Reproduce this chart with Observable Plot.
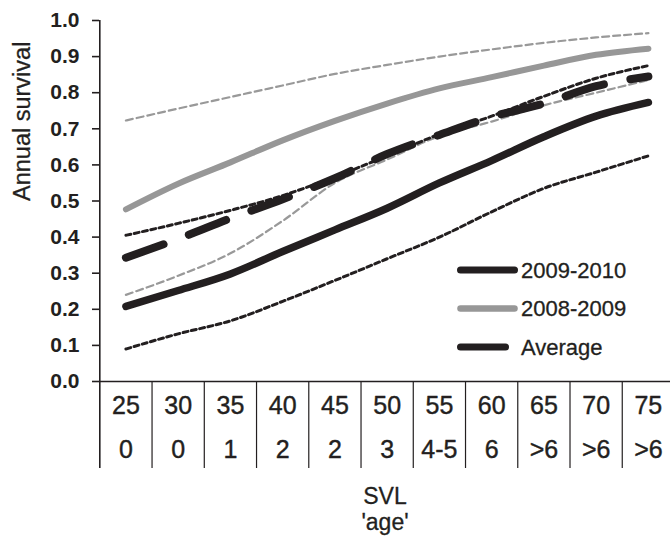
<!DOCTYPE html>
<html><head><meta charset="utf-8">
<script src="https://cdn.jsdelivr.net/npm/d3@7"></script>
<script src="https://cdn.jsdelivr.net/npm/@observablehq/plot@0.6"></script>
<style>
body{margin:0;background:#fff;}
#chart svg{font-family:"Liberation Sans",Arial,sans-serif;overflow:visible;}
</style>
</head><body><div id="chart"></div>
<script>
// ---- data ----
const svl = [25, 30, 35, 40, 45, 50, 55, 60, 65, 70, 75];
const ageLabels = ["0", "0", "1", "2", "2", "3", "4-5", "6", ">6", ">6", ">6"];
const surv0910 = [0.208, 0.252, 0.298, 0.36, 0.42, 0.48, 0.55, 0.612, 0.678, 0.735, 0.773];
const surv0809 = [0.477, 0.548, 0.607, 0.668, 0.722, 0.77, 0.812, 0.843, 0.875, 0.905, 0.922];
const survAvg = [0.343, 0.395, 0.452, 0.505, 0.563, 0.63, 0.683, 0.733, 0.77, 0.818, 0.845];
const avgUpper = [0.405, 0.438, 0.474, 0.515, 0.567, 0.625, 0.685, 0.735, 0.79, 0.84, 0.875];
const avgLower = [0.09, 0.132, 0.168, 0.222, 0.28, 0.34, 0.4, 0.47, 0.535, 0.58, 0.625];
const upper0809 = [0.723, 0.756, 0.788, 0.82, 0.852, 0.877, 0.9, 0.92, 0.938, 0.953, 0.965];
const lower0809 = [0.24, 0.293, 0.355, 0.445, 0.55, 0.615, 0.68, 0.72, 0.765, 0.8, 0.835];
const yTicks = [0, 0.1, 0.2, 0.3, 0.4, 0.5, 0.6, 0.7, 0.8, 0.9, 1.0];
const legendLabels = ["2009-2010", "2008-2009", "Average"];
const yTitle = "Annual survival";
const xTitle = "SVL";
const xSubTitle = "'age'";

// ---- helpers ----
const rows = vals => svl.map((x, i) => ({x, y: vals[i]}));
const boundaries = svl.map(d => d - 2.5);
const INK = "#231f20";
const GREY = "#979797";
const GREY_DASH = "#999999";
const legendStyle = {
  "2009-2010": {stroke: INK, width: 7, len: 54},
  "2008-2009": {stroke: GREY, width: 6.5, len: 54},
  "Average": {stroke: INK, width: 7, len: 45}
};

const legendMark = (index, scales, values, dims) => {
  const g = d3.create("svg:g").attr("text-anchor", "start");
  const x0 = dims.width - 209.5;
  legendLabels.forEach((lab, i) => {
    const st = legendStyle[lab];
    const y = 270 + i * 38.5;
    g.append("line").attr("x1", x0).attr("x2", x0 + st.len)
      .attr("y1", y).attr("y2", y)
      .attr("stroke", st.stroke).attr("stroke-width", st.width)
      .attr("stroke-linecap", "round");
    g.append("text").attr("x", x0 + 60.5).attr("y", y)
      .attr("dy", "0.36em").attr("font-size", 22).attr("fill", INK)
      .attr("stroke", INK).attr("stroke-width", 0.3)
      .attr("text-anchor", "start")
      .text(lab);
  });
  return g.node();
};

const chart = Plot.plot({
  width: 670,
  height: 545,
  marginLeft: 99,
  marginRight: 0,
  marginTop: 20,
  marginBottom: 164,
  x: {domain: [22.5, 77.5], range: [99.3, 674], axis: null},
  y: {domain: [0, 1], axis: null},
  marks: [
    Plot.axisY(yTicks, {
      tickSize: 7, tickPadding: 13, tickFormat: d3.format(".1f"),
      fontSize: 21, fontWeight: "bold", stroke: INK, strokeWidth: 1.6,
      fill: INK, label: null
    }),
    Plot.ruleX([boundaries[0]], {stroke: INK, strokeWidth: 1.6, insetBottom: -87}),
    Plot.ruleX(boundaries.slice(1), {stroke: INK, strokeWidth: 1.2, insetTop: 361, insetBottom: -87}),
    Plot.ruleY([0], {stroke: INK, strokeWidth: 1.6}),
    Plot.text(svl, {x: d => d, text: d => String(d), frameAnchor: "bottom", dy: 32, fontSize: 25, fill: INK, stroke: INK, strokeWidth: 0.4}),
    Plot.text(svl, {x: d => d, text: (d, i) => ageLabels[i], frameAnchor: "bottom", dy: 76, fontSize: 25, fill: INK, stroke: INK, strokeWidth: 0.4}),
    Plot.text([xTitle], {frameAnchor: "bottom", dy: 122, fontSize: 23, fill: INK, stroke: INK, strokeWidth: 0.3}),
    Plot.text([xSubTitle], {frameAnchor: "bottom", dy: 148, fontSize: 23, fill: INK, stroke: INK, strokeWidth: 0.3}),
    Plot.text([yTitle], {frameAnchor: "left", rotate: -90, dx: -77, fontSize: 23.5, fill: INK, stroke: INK, strokeWidth: 0.3}),
    Plot.line(rows(upper0809), {x: "x", y: "y", stroke: GREY_DASH, strokeWidth: 2.2, strokeDasharray: "7 4", curve: "monotone-x"}),
    Plot.line(rows(lower0809), {x: "x", y: "y", stroke: GREY_DASH, strokeWidth: 2.2, strokeDasharray: "7 4", curve: "monotone-x"}),
    Plot.line(rows(avgUpper), {x: "x", y: "y", stroke: INK, strokeWidth: 3, strokeDasharray: "5 3.5", curve: "monotone-x"}),
    Plot.line(rows(avgLower), {x: "x", y: "y", stroke: INK, strokeWidth: 3, strokeDasharray: "5 3.5", curve: "monotone-x"}),
    Plot.line(rows(surv0809), {x: "x", y: "y", stroke: GREY, strokeWidth: 6, strokeLinecap: "round", curve: "monotone-x"}),
    Plot.line(rows(surv0910), {x: "x", y: "y", stroke: INK, strokeWidth: 7.5, strokeLinecap: "round", curve: "monotone-x"}),
    Plot.line(rows(survAvg), {x: "x", y: "y", stroke: INK, strokeWidth: 8, strokeLinecap: "round", strokeDasharray: "40 27", curve: "monotone-x"}),
    legendMark
  ]
});
document.getElementById("chart").append(chart);
</script>
</body></html>
